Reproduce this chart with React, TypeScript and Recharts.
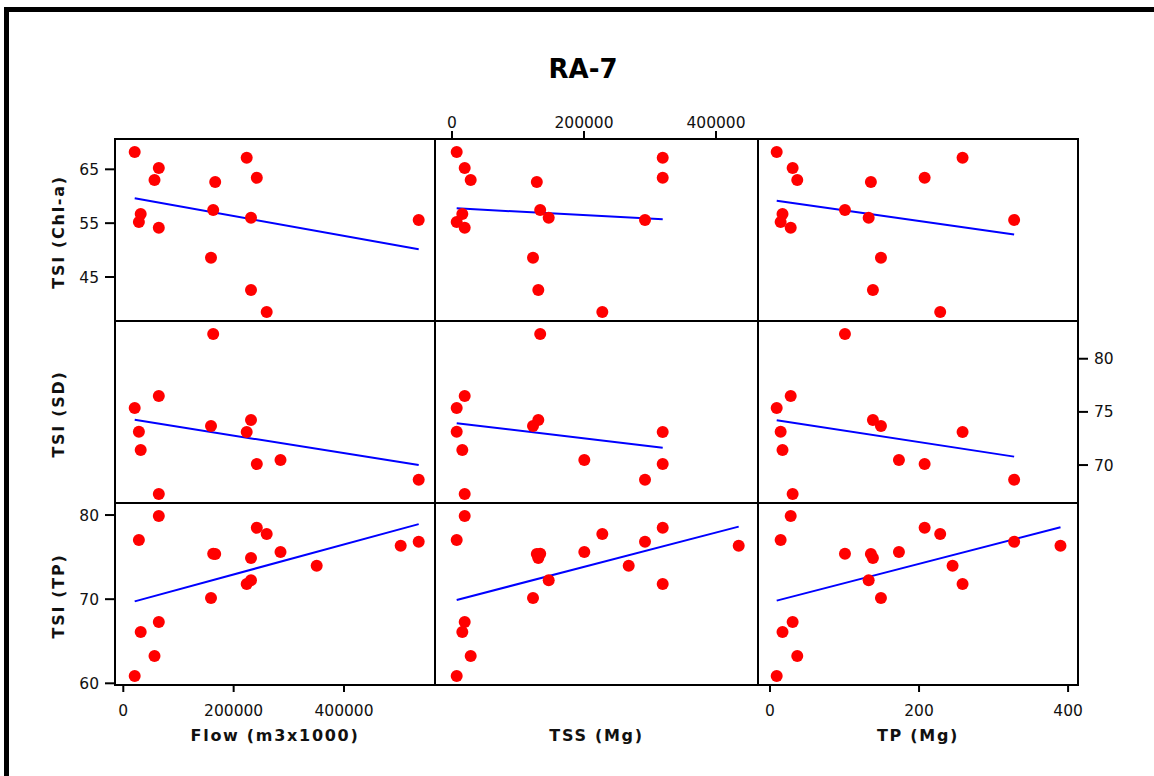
import React from 'react'
import { ScatterChart, Scatter, XAxis, YAxis } from 'recharts'

// one entry per sampling year, null = not measured that year
const flow = [20660, 28270, 31540, 56550, 64340, 64340, 158950, 166560, 162940, 231440, 223650, 231440, 241960, 259900, 284910, 350520, 502760, 535390]
const tss = [7120, 7120, 15600, 28330, 19240, 19240, 122730, 128490, 133640, 130760, 319260, 146520, 319260, 227730, 200460, 267740, 434410, 292430]
const tp = [9.0, 14.3, 16.8, 36.6, 27.8, 30.4, 148.9, 135.4, 100.6, 138.1, 258.4, 132.4, 207.5, 228.4, 173.0, 245.0, 389.8, 327.6]
const tsiChl = [68.21, 55.21, 56.7, 63.01, 54.16, 65.24, 48.58, 62.64, 57.44, 42.59, 67.15, 56.01, 63.42, 38.5, null, null, null, 55.59]
const tsiSD = [75.36, 73.13, 71.41, null, 76.49, 67.27, 73.67, null, 82.32, 74.23, 73.1, null, 70.09, null, 70.47, null, null, 68.62]
const tsiTP = [60.87, 77.03, 66.1, 63.24, 79.88, 67.28, 70.14, 75.37, 75.4, 74.89, 71.8, 72.24, 78.48, 77.74, 75.6, 73.96, 76.35, 76.82]

const flowTicks = [0, 200000, 400000]
const tssTicks = [0, 200000, 400000]
const tpTicks = [0, 200, 400]
const chlTicks = [45, 55, 65]
const sdTicks = [70, 75, 80]
const tsiTpTicks = [60, 70, 80]

const FONT = '"DejaVu Sans", Verdana, sans-serif'
const PAD = 70

type Num = number | null

const cols = [
  { label: 'Flow (m3x1000)', values: flow as Num[], ticks: flowTicks, domain: [-15040, 564930], axis: 'bottom', left: 115, width: 320 },
  { label: 'TSS (Mg)', values: tss as Num[], ticks: tssTicks, domain: [-25760, 463640], axis: 'top', left: 435, width: 323 },
  { label: 'TP (Mg)', values: tp as Num[], ticks: tpTicks, domain: [-16.1, 413.3], axis: 'bottom', left: 758, width: 320 },
]

const rows = [
  { label: 'TSI (Chl-a)', values: tsiChl as Num[], ticks: chlTicks, domain: [36.83, 70.63], axis: 'left', top: 139, height: 182 },
  { label: 'TSI (SD)', values: tsiSD as Num[], ticks: sdTicks, domain: [66.43, 83.55], axis: 'right', top: 321, height: 182 },
  { label: 'TSI (TP)', values: tsiTP as Num[], ticks: tsiTpTicks, domain: [59.8, 81.43], axis: 'left', top: 503, height: 182 },
]

const tickStyle = { fill: '#111', fontSize: 15.5, fontFamily: FONT }
const tickLine = { stroke: '#000', strokeWidth: 2 }

const Dot = (p: any) => <circle cx={p.cx} cy={p.cy} r={6} fill="#ff0000" />

const Panel = ({ r, c }: { r: number; c: number }) => {
  const row = rows[r]
  const col = cols[c]
  const showLeft = c === 0 && row.axis === 'left'
  const showRight = c === 2 && row.axis === 'right'
  const showBottom = r === 2 && col.axis === 'bottom'
  const showTop = r === 0 && col.axis === 'top'
  const AX = 60
  const margin = {
    top: PAD - (showTop ? AX : 0),
    bottom: PAD - (showBottom ? AX : 0),
    left: PAD - (showLeft ? AX : 0),
    right: PAD - (showRight ? AX : 0),
  }
  const data = col.values
    .map((x, i) => ({ x, y: row.values[i] }))
    .filter(d => d.x != null && d.y != null)

  return (
    <div style={{ position: 'absolute', left: col.left - PAD, top: row.top - PAD }}>
      <ScatterChart width={col.width + 2 * PAD} height={row.height + 2 * PAD} margin={margin}>
        <XAxis
          type="number"
          dataKey="x"
          domain={col.domain}
          ticks={col.ticks}
          allowDataOverflow
          interval={0}
          orientation={col.axis as any}
          hide={!(showTop || showBottom)}
          height={AX}
          axisLine={false}
          tickLine={tickLine}
          tickSize={showTop ? 8 : 7}
          tickMargin={showTop ? 3 : 13}
          tick={tickStyle}
        />
        <YAxis
          type="number"
          dataKey="y"
          domain={row.domain}
          ticks={row.ticks}
          allowDataOverflow
          interval={0}
          orientation={row.axis as any}
          hide={!(showLeft || showRight)}
          width={AX}
          axisLine={false}
          tickLine={tickLine}
          tickSize={10}
          tickMargin={6}
          tick={tickStyle}
        />
        <Scatter
          data={data}
          isAnimationActive={false}
          line={{ stroke: '#0000ff', strokeWidth: 2 }}
          lineType="fitting"
          shape={Dot}
        />
      </ScatterChart>
    </div>
  )
}

export default function App() {
  return (
    <div style={{ position: 'absolute', left: 0, top: 0, width: 1154, height: 776, overflow: 'hidden', background: '#fff' }}>
      <div
        style={{
          position: 'absolute',
          left: 4,
          top: 7,
          width: 1200,
          height: 800,
          borderTop: '5px solid #000',
          borderLeft: '5px solid #000',
        }}
      />
      {rows.map((_, r) => cols.map((__, c) => <Panel key={`${r}-${c}`} r={r} c={c} />))}
      <svg width={1154} height={776} style={{ position: 'absolute', left: 0, top: 0, pointerEvents: 'none' }}>
        {rows.map((row, r) =>
          cols.map((col, c) => (
            <rect key={`b${r}-${c}`} x={col.left} y={row.top} width={col.width} height={row.height} fill="none" stroke="#000" strokeWidth={2} />
          ))
        )}
        <text x={583} y={78} textAnchor="middle" fontFamily={FONT} fontSize={26} fontWeight="bold" fill="#000">
          RA-7
        </text>
        {cols.map(col => (
          <text
            key={col.label}
            x={col.left + col.width / 2}
            y={741}
            textAnchor="middle"
            fontFamily={FONT}
            fontSize={16}
            fontWeight="bold"
            fill="#111"
            style={{ letterSpacing: 1.7 }}
          >
            {col.label}
          </text>
        ))}
        {rows.map(row => {
          const cy = row.top + row.height / 2 + 2
          return (
            <text
              key={row.label}
              x={64}
              y={cy}
              transform={`rotate(-90 64 ${cy})`}
              textAnchor="middle"
              fontFamily={FONT}
              fontSize={16}
              fontWeight="bold"
              fill="#111"
              style={{ letterSpacing: 1.7 }}
            >
              {row.label}
            </text>
          )
        })}
      </svg>
    </div>
  )
}
